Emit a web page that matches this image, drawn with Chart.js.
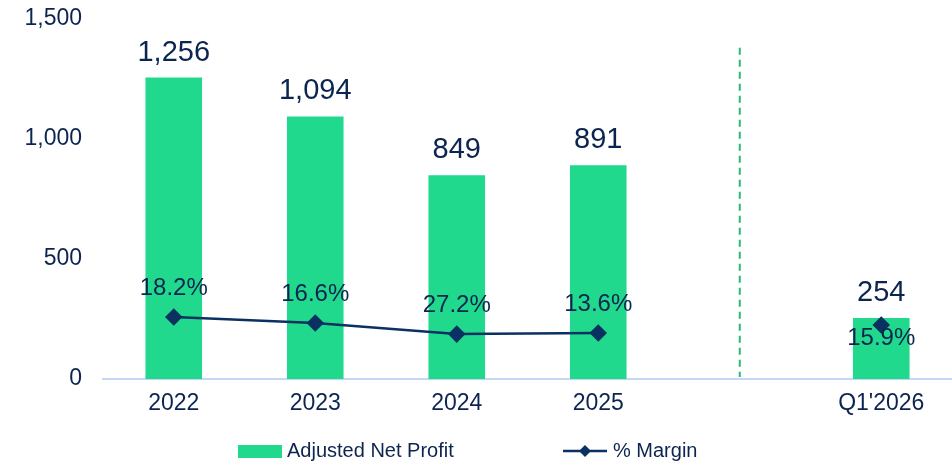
<!DOCTYPE html>
<html>
<head>
<meta charset="utf-8">
<script src="https://cdn.jsdelivr.net/npm/chart.js@4.4.0/dist/chart.umd.min.js"></script>
<style>
  html, body { margin: 0; padding: 0; background: #ffffff; }
  #wrap { width: 952px; height: 466px; position: relative; }
</style>
</head>
<body>
<div id="wrap"><canvas id="graphic"></canvas></div>
<script>
// categories (empty slot = gap before the quarter)
const categories = ['2022', '2023', '2024', '2025', '', "Q1'2026"];
// Adjusted Net Profit bars
const netProfit = [1256, 1094, 849, 891, null, 254];
const marginPlot = [258, 233, 187, 192, null, 225];
const marginLabels = ['18.2%', '16.6%', '27.2%', '13.6%', null, '15.9%'];
const yTicks = [0, 500, 1000, 1500];

const GREEN = '#21d98c';
const NAVY = '#0c2450';
const LINE = '#0b3062';
const FONT = '"Liberation Sans", Arial, sans-serif';

// etiquettes au-dessus des barres et des points
const labelsPlugin = {
  id: 'labels',
  afterDatasetsDraw(chart) {
    const ctx = chart.ctx;
    ctx.save();
    ctx.fillStyle = NAVY;
    ctx.textAlign = 'center';
    ctx.textBaseline = 'alphabetic';

    ctx.font = '29px ' + FONT;
    chart.getDatasetMeta(0).data.forEach((bar, i) => {
      if (netProfit[i] == null) return;
      ctx.fillText(netProfit[i].toLocaleString('en-US'), bar.x, bar.y - 17);
    });

    ctx.font = '24px ' + FONT;
    const last = categories.length - 1;
    chart.getDatasetMeta(1).data.forEach((pt, i) => {
      if (marginLabels[i] == null) return;
      const dy = i === last ? 20 : -22;
      ctx.fillText(marginLabels[i], pt.x, pt.y + dy);
    });
    ctx.restore();
  }
};

// ligne pointillée verte entre 2025 et Q1'2026
const dividerPlugin = {
  id: 'divider',
  beforeDatasetsDraw(chart) {
    const x = chart.scales.x.getPixelForValue(4);
    const y = chart.scales.y;
    const ctx = chart.ctx;
    ctx.save();
    ctx.strokeStyle = '#2cb878';
    ctx.lineWidth = 2;
    ctx.setLineDash([7, 5]);
    ctx.beginPath();
    ctx.moveTo(x, y.getPixelForValue(1380));
    ctx.lineTo(x, y.getPixelForValue(8));
    ctx.stroke();
    ctx.restore();
  }
};

// légende dessinée à la main (ligne + losange)
const legendPlugin = {
  id: 'customLegend',
  afterDraw(chart) {
    const ctx = chart.ctx;
    const yMid = 451;
    ctx.save();
    ctx.fillStyle = GREEN;
    ctx.fillRect(238, yMid - 6, 44, 13);
    ctx.fillStyle = NAVY;
    ctx.font = '20px ' + FONT;
    ctx.textBaseline = 'middle';
    ctx.textAlign = 'left';
    ctx.fillText('Adjusted Net Profit', 287, yMid);

    ctx.strokeStyle = LINE;
    ctx.lineWidth = 2.5;
    ctx.beginPath();
    ctx.moveTo(563, yMid);
    ctx.lineTo(607, yMid);
    ctx.stroke();
    ctx.fillStyle = LINE;
    ctx.beginPath();
    ctx.moveTo(585, yMid - 6);
    ctx.lineTo(591, yMid);
    ctx.lineTo(585, yMid + 6);
    ctx.lineTo(579, yMid);
    ctx.closePath();
    ctx.fill();
    ctx.fillStyle = NAVY;
    ctx.fillText('% Margin', 613, yMid);
    ctx.restore();
  }
};

new Chart(document.getElementById('graphic'), {
  type: 'bar',
  data: {
    labels: categories,
    datasets: [
      {
        label: 'Adjusted Net Profit',
        data: netProfit,
        backgroundColor: GREEN,
        barPercentage: 0.4,
        categoryPercentage: 1,
        order: 2
      },
      {
        type: 'line',
        label: '% Margin',
        data: marginPlot,
        borderColor: LINE,
        backgroundColor: LINE,
        borderWidth: 2.5,
        pointStyle: 'rectRot',
        pointRadius: 7,
        pointHoverRadius: 7,
        spanGaps: false,
        tension: 0,
        clip: false,
        order: 1
      }
    ]
  },
  options: {
    responsive: true,
    maintainAspectRatio: false,
    animation: false,
    layout: { autoPadding: false, padding: { top: 19, right: 0, bottom: 42, left: 0 } },
    plugins: {
      legend: { display: false },
      tooltip: { enabled: false }
    },
    scales: {
      x: {
        grid: { display: false, drawTicks: false },
        border: { display: true, color: '#c6d6f4', width: 2 },
        ticks: { color: NAVY, font: { family: FONT, size: 23 }, padding: 11 },
        afterFit(scale) {
          scale.height = 45;
          scale.paddingLeft = 0;
          scale.paddingRight = 0;
        }
      },
      y: {
        min: 0,
        max: 1500,
        afterBuildTicks(scale) { scale.ticks = yTicks.map(v => ({ value: v })); },
        grid: { display: false, drawTicks: false },
        border: { display: false },
        ticks: {
          color: NAVY,
          font: { family: FONT, size: 23 },
          padding: 21,
          callback: v => v.toLocaleString('en-US')
        },
        afterFit(scale) {
          scale.width = 103;
          scale.paddingTop = 0;
          scale.paddingBottom = 0;
        }
      }
    }
  },
  plugins: [dividerPlugin, labelsPlugin, legendPlugin]
});
</script>
</body>
</html>
